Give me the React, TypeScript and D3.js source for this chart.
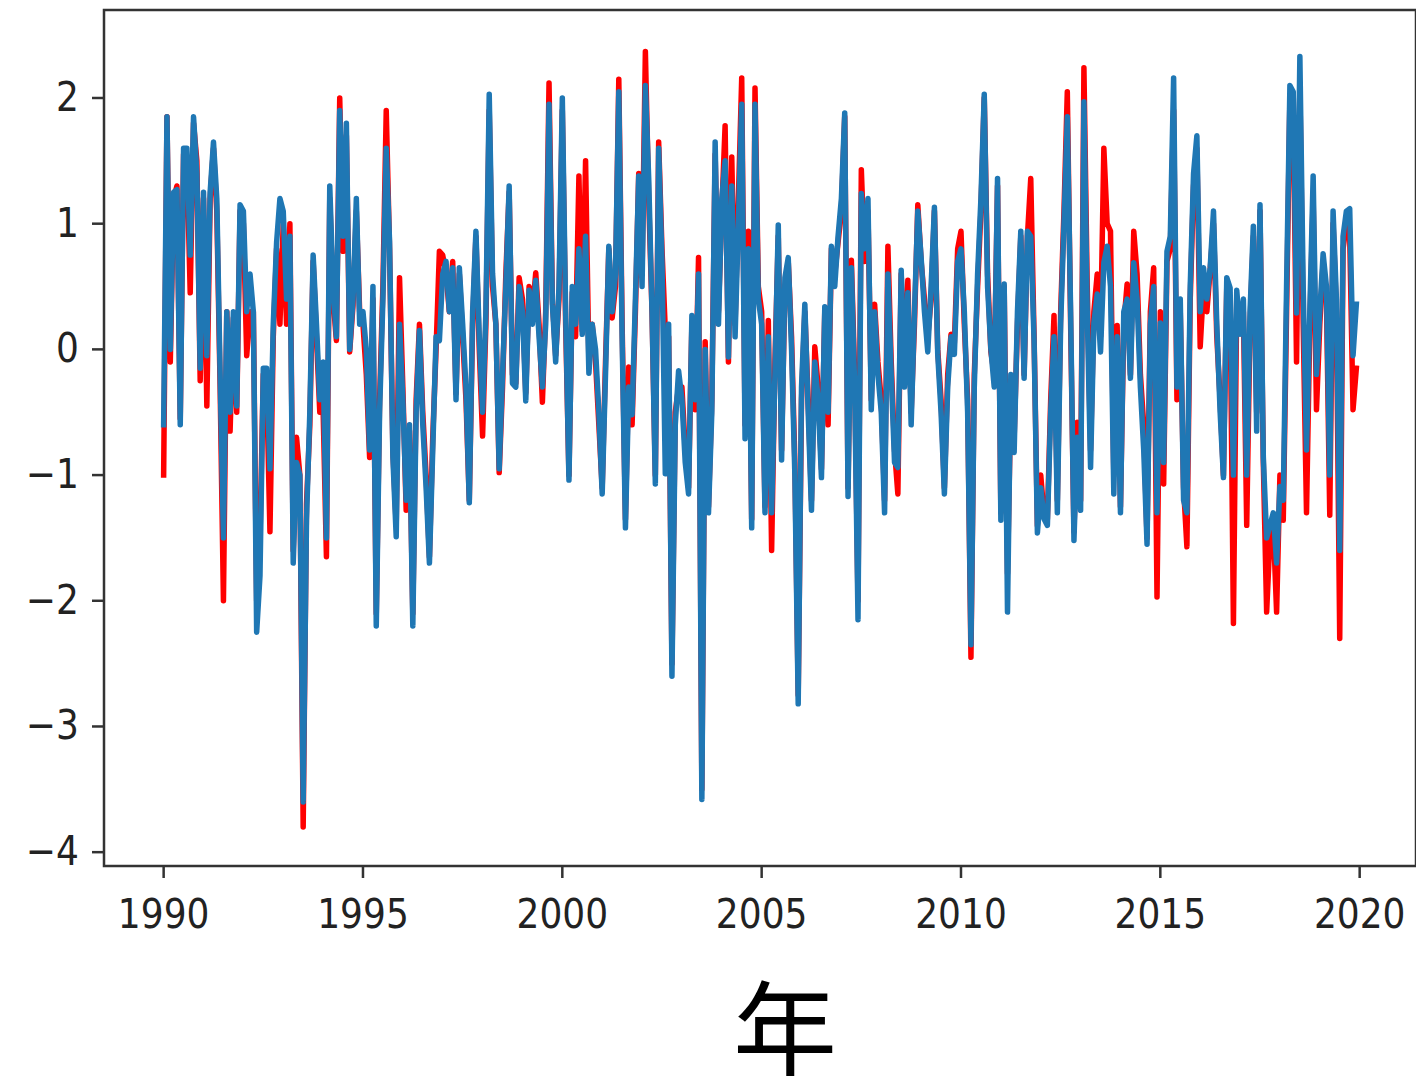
import React from "react";
import * as d3 from "d3";

// Monthly series, January 1990 – December 2019 (12 values per row = one year)
const startYear = 1990;

const blueSeries: number[] = [
  -0.6, 1.85, 0.0, 1.25, 1.27, -0.6, 1.6, 1.6, 0.75, 1.85, 1.4, -0.15,
  1.25, -0.05, 1.25, 1.65, 1.2, -0.2, -1.5, 0.3, -0.5, 0.3, -0.45, 1.15,
  1.1, 0.3, 0.6, 0.3, -2.25, -1.8, -0.15, -0.15, -0.95, 0.2, 0.85, 1.2,
  1.1, 0.4, 0.9, -1.7, -0.9, -1.0, -3.6, -1.36, -0.5, 0.75, 0.2, -0.4,
  -0.1, -1.5, 1.3, 0.5, 0.1, 1.9, 0.9, 1.8, 0.0, 0.4, 1.2, 0.2,
  0.3, 0.0, -0.8, 0.5, -2.2, -0.5, 0.4, 1.6, 0.86, -0.86, -1.49, 0.2,
  -0.4, -1.2, -0.6, -2.2, -0.5, 0.15, -0.6, -1.1, -1.7, -0.8, 0.1, 0.07,
  0.6, 0.7, 0.3, 0.65, -0.4, 0.65, 0.2, -0.3, -1.22, 0.3, 0.94, 0.1,
  -0.5, 0.3, 2.03, 0.6, 0.2, -0.95, -0.2, 0.5, 1.3, -0.27, -0.3, 0.5,
  0.3, -0.41, 0.47, 0.2, 0.55, 0.1, -0.3, 0.2, 1.95, 0.36, -0.1, 0.5,
  2.0, 0.3, -1.04, 0.5, 0.2, 0.8, 0.12, 0.9, -0.19, 0.2, 0.0, -0.5,
  -1.15, -0.2, 0.82, 0.3, 0.6, 2.05, 0.1, -1.42, -0.3, -0.52, 0.4, 1.38,
  0.5, 2.1, 1.36, 0.3, -1.07, 1.6, 0.7, -0.99, 0.2, -2.6, -0.6, -0.17,
  -0.4, -0.9, -1.15, 0.27, -0.4, 0.6, -3.58, 0.0, -1.3, -0.5, 1.65, 0.2,
  1.2, 1.5, -0.06, 1.3, 0.1, 1.0, 1.95, -0.71, 0.8, -1.42, 1.95, 0.4,
  0.2, -1.3, 0.1, -1.3, -0.2, 0.99, -0.88, 0.57, 0.73, 0.0, -1.0, -2.82,
  -0.3, 0.36, -0.5, -1.28, -0.1, -0.4, -1.02, 0.34, -0.5, 0.82, 0.5, 0.9,
  1.2, 1.88, -1.17, 0.65, -0.3, -2.15, 1.24, 0.8, 1.2, -0.48, 0.3, -0.2,
  -0.5, -1.3, 0.6, -0.2, -0.9, -0.94, 0.63, -0.3, 0.45, -0.6, 0.3, 1.1,
  0.73, 0.3, -0.02, 0.5, 1.13, -0.04, -0.5, -1.15, -0.3, 0.1, -0.04, 0.7,
  0.8, 0.3, -0.5, -2.35, -0.3, 0.6, 1.2, 2.03, 0.5, 0.0, -0.3, 1.36,
  -1.36, 0.52, -2.09, -0.2, -0.82, 0.3, 0.94, -0.23, 0.94, 0.9, 0.07, -1.46,
  -1.1, -1.35, -1.4, -0.5, 0.1, -1.3, 0.2, 1.0, 1.85, 0.3, -1.52, -0.7,
  -1.28, 1.97, 0.3, -0.94, 0.21, 0.44, -0.02, 0.69, 0.82, 0.5, -1.15, 0.1,
  -1.3, 0.3, 0.4, -0.23, 0.69, 0.4, -0.3, -0.8, -1.55, 0.2, 0.5, -1.3,
  0.21, -0.9, 0.78, 0.9, 2.16, -0.3, 0.4, -1.2, -1.3, 0.5, 1.4, 1.7,
  0.3, 0.65, 0.4, 0.65, 1.1, 0.2, -0.5, -1.02, 0.57, 0.49, -1.0, 0.47,
  0.12, 0.4, -1.0, 0.3, 0.98, -0.65, 1.15, -0.86, -1.5, -1.4, -1.3, -1.7,
  -1.09, -1.2, 0.5, 2.1, 2.05, 0.29, 2.33, 0.5, -0.8, 0.3, 1.38, -0.2,
  0.3, 0.76, 0.5, -1.0, 1.1, 0.4, -1.6, 0.9, 1.1, 1.12, -0.05, 0.36,
];

const redSeries: number[] = [
  -1.0, 1.85, -0.1, 1.2, 1.3, -0.55, 1.55, 1.5, 0.45, 1.8, 1.5, -0.25,
  1.2, -0.45, 1.2, 1.6, 1.1, -0.3, -2.0, 0.3, -0.65, 0.25, -0.5, 1.1,
  1.0, -0.05, 0.3, 0.3, -2.0, -1.5, -0.2, -0.3, -1.45, 0.1, 0.8, 0.2,
  1.0, 0.2, 1.0, -1.6, -0.7, -1.0, -3.8, -1.23, -0.6, 0.7, 0.1, -0.5,
  -0.48, -1.65, 1.2, 0.4, 0.07, 2.0, 0.78, 1.7, -0.02, 0.35, 1.1, 0.3,
  0.2, -0.2, -0.86, 0.4, -2.1, -0.4, 0.5, 1.9, 0.8, -0.8, -1.4, 0.57,
  -0.3, -1.28, -0.65, -2.1, -0.4, 0.2, -0.5, -1.0, -1.65, -0.7, 0.0, 0.78,
  0.75, 0.6, 0.3, 0.7, -0.35, 0.6, 0.1, -0.4, -1.2, 0.2, 0.9, 0.0,
  -0.69, 0.2, 1.9, 0.5, 0.2, -0.98, -0.3, 0.6, 1.25, -0.2, -0.27, 0.57,
  0.4, -0.35, 0.5, 0.3, 0.61, 0.2, -0.42, 0.3, 2.12, 0.4, -0.05, 0.4,
  1.9, 0.2, -1.0, 0.45, 0.1, 1.38, 0.15, 1.5, -0.1, 0.2, -0.1, -0.6,
  -1.1, -0.1, 0.8, 0.25, 0.5, 2.15, 0.2, -1.35, -0.14, -0.6, 0.3, 1.4,
  0.6, 2.37, 1.2, 0.3, -1.0, 1.65, 0.8, 0.15, 0.1, -2.5, -0.5, -0.3,
  -0.3, -0.8, -1.1, 0.2, -0.48, 0.73, -3.5, 0.06, -1.25, -0.4, 1.55, 0.3,
  1.1, 1.78, -0.1, 1.53, 0.2, 1.2, 2.16, -0.6, 0.94, -1.35, 2.08, 0.5,
  0.3, -1.25, 0.23, -1.6, -0.1, 0.9, -0.8, 0.5, 0.7, 0.1, -0.9, -2.75,
  -0.4, 0.3, -0.4, -1.2, 0.02, -0.3, -0.95, 0.3, -0.6, 0.8, 0.6, 0.85,
  1.1, 1.85, -1.1, 0.71, -0.2, -2.0, 1.43, 0.7, 1.1, -0.4, 0.36, -0.1,
  -0.4, -1.2, 0.82, -0.1, -0.8, -1.15, 0.6, -0.2, 0.55, -0.5, 0.2, 1.15,
  0.7, 0.4, 0.1, 0.4, 1.1, 0.0, -0.4, -1.1, -0.2, 0.12, 0.05, 0.8,
  0.94, 0.2, -0.4, -2.45, -0.2, 0.5, 1.1, 2.0, 0.6, -0.02, -0.2, 1.3,
  -1.3, 0.5, -1.78, -0.4, -0.7, 0.2, 0.9, -0.2, 0.9, 1.36, 0.1, -1.4,
  -1.0, -1.32, -1.35, -0.4, 0.27, -1.2, 0.3, 1.1, 2.05, 0.2, -1.45, -0.58,
  -1.2, 2.24, 0.5, -0.8, 0.3, 0.6, 0.1, 1.6, 1.0, 0.94, -1.0, 0.19,
  -1.25, 0.2, 0.52, -0.2, 0.94, 0.6, -0.2, -0.6, -1.5, 0.3, 0.65, -1.97,
  0.3, -1.07, 0.7, 0.8, 1.9, -0.4, 0.3, -1.1, -1.57, 0.4, 1.3, 1.6,
  0.02, 0.5, 0.3, 0.63, 1.0, 0.1, -0.4, -1.0, 0.5, 0.4, -2.18, 0.4,
  0.2, 0.3, -1.4, 0.2, 0.9, -0.5, 1.1, -0.9, -2.09, -1.5, -1.4, -2.09,
  -1.0, -1.36, 0.3, 2.0, 1.9, -0.1, 2.1, 0.2, -1.3, 0.2, 1.2, -0.48,
  0.2, 0.7, 0.4, -1.32, 1.0, 0.3, -2.3, 0.8, 1.0, 0.9, -0.48, -0.15,
];

const xTickYears = [1990, 1995, 2000, 2005, 2010, 2015, 2020];
const yTickValues = [-4, -3, -2, -1, 0, 1, 2];
const xAxisLabel = "年";

const W = 1416;
const H = 1076;
const plot = { left: 104, top: 10, right: 1416, bottom: 866 };

export default function App() {
  const x = d3.scaleLinear().domain([1988.504, 2021.413]).range([plot.left, plot.right]);
  const y = d3.scaleLinear().domain([-4.11, 2.7]).range([plot.bottom, plot.top]);

  const line = d3
    .line<number>()
    .x((_, i) => x(startYear + i / 12))
    .y((v) => y(v));

  const tickFont = "'DejaVu Sans', sans-serif";
  const axisColor = "#333";
  const textColor = "#222";

  return (
    <svg
      width={W}
      height={H}
      style={{ position: "absolute", left: 0, top: 0, background: "#fff" }}
    >
      <rect x={0} y={0} width={W} height={H} fill="#fff" />
      <defs>
        <clipPath id="plotClip">
          <rect x={plot.left} y={plot.top} width={plot.right - plot.left} height={plot.bottom - plot.top} />
        </clipPath>
      </defs>

      <g clipPath="url(#plotClip)">
        <path d={line(redSeries) ?? ""} fill="none" stroke="#ff0000" strokeWidth={5.5} strokeLinejoin="round" strokeLinecap="square" />
        <path d={line(blueSeries) ?? ""} fill="none" stroke="#1f77b4" strokeWidth={5.5} strokeLinejoin="round" strokeLinecap="square" />
      </g>

      {/* spines */}
      <rect
        x={plot.left}
        y={plot.top}
        width={plot.right - plot.left}
        height={plot.bottom - plot.top}
        fill="none"
        stroke={axisColor}
        strokeWidth={2.5}
      />

      {/* y axis */}
      {yTickValues.map((v) => (
        <g key={`y${v}`}>
          <line x1={plot.left - 12} x2={plot.left} y1={y(v)} y2={y(v)} stroke={axisColor} strokeWidth={2.5} />
          <text
            transform={`translate(${plot.left - 25}, ${y(v) + 13}) scale(1, 1.15)`}
            textAnchor="end"
            fontFamily={tickFont}
            fontSize={36}
            fill={textColor}
          >
            {v < 0 ? `\u2212${Math.abs(v)}` : `${v}`}
          </text>
        </g>
      ))}

      {/* x axis */}
      {xTickYears.map((yr) => (
        <g key={`x${yr}`}>
          <line x1={x(yr)} x2={x(yr)} y1={plot.bottom} y2={plot.bottom + 12} stroke={axisColor} strokeWidth={2.5} />
          <text
            transform={`translate(${x(yr)}, ${plot.bottom + 62}) scale(1, 1.15)`}
            textAnchor="middle"
            fontFamily={tickFont}
            fontSize={36}
            fill={textColor}
          >
            {yr}
          </text>
        </g>
      ))}

      <text
        x={785}
        y={1069}
        textAnchor="middle"
        fontFamily="'Noto Sans CJK SC', 'Noto Sans CJK JP', sans-serif"
        fontSize={104}
        fill="#000"
      >
        {xAxisLabel}
      </text>
    </svg>
  );
}
